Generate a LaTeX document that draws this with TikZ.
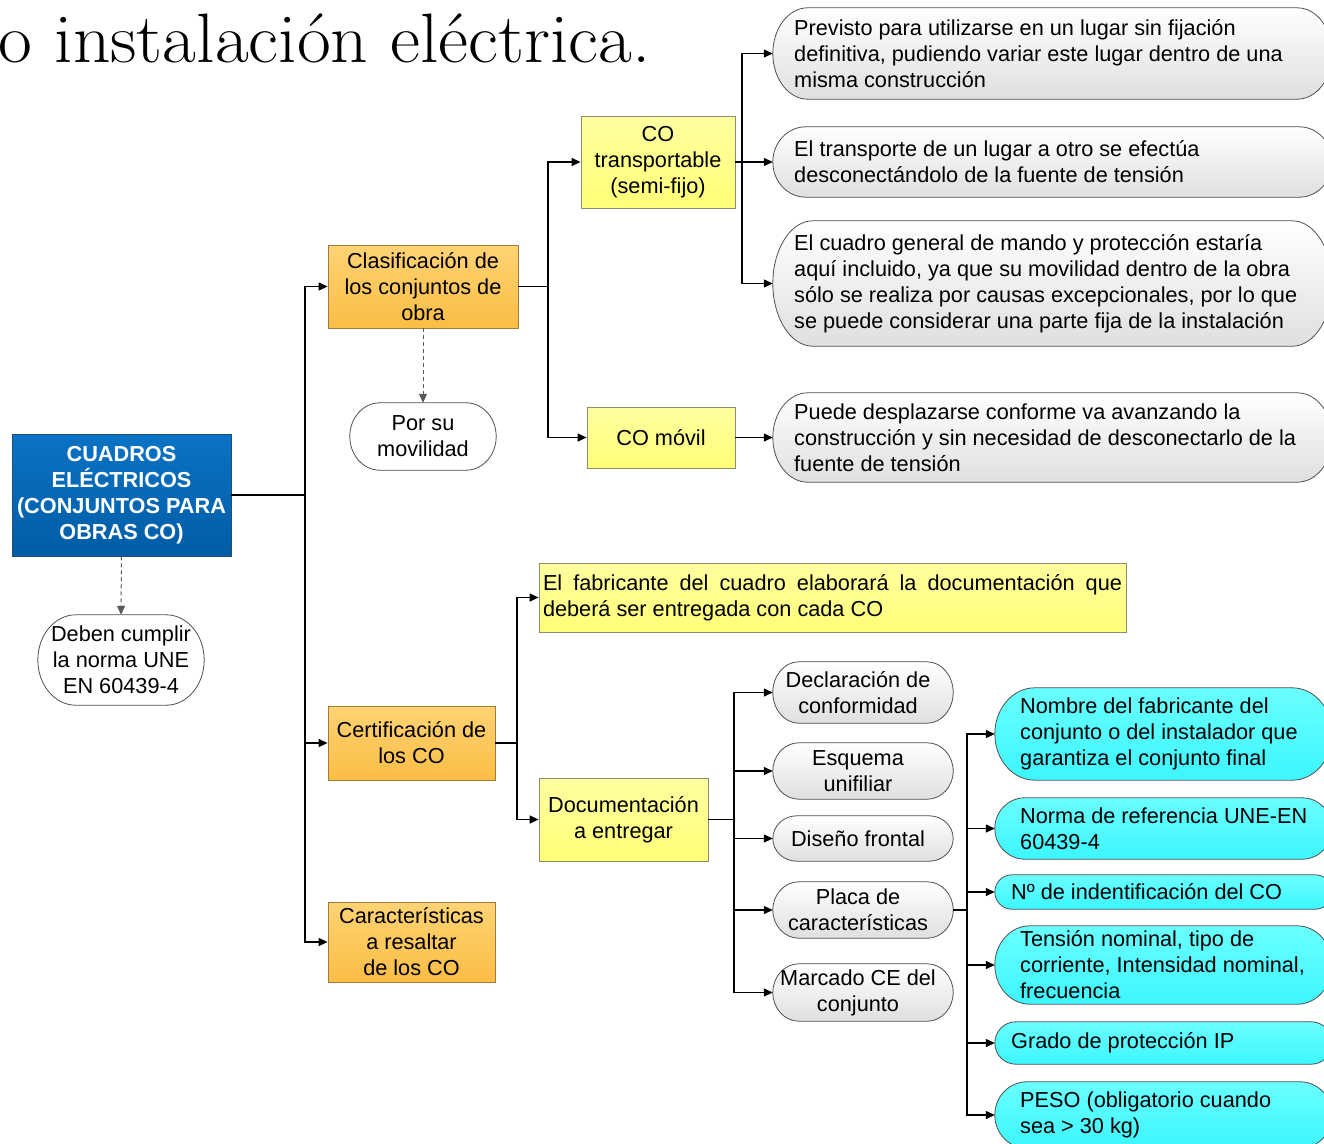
\documentclass[tikz,border=0pt]{standalone}
\usepackage{fontspec}
\usepackage{graphicx}
\setsansfont{Liberation Sans}
\usetikzlibrary{arrows.meta,calc,backgrounds}
\definecolor{blueA}{HTML}{0B72C4}
\definecolor{blueB}{HTML}{005DA6}
\definecolor{blueE}{HTML}{1F4E79}
\definecolor{orA}{HTML}{FFD374}
\definecolor{orB}{HTML}{FBBD45}
\definecolor{orE}{HTML}{A07C3C}
\definecolor{yeA}{HTML}{FFFFA0}
\definecolor{yeB}{HTML}{FFFF78}
\definecolor{yeE}{HTML}{8C8C6E}
\definecolor{grE}{HTML}{505050}
\definecolor{cyA}{HTML}{6AFFFF}
\definecolor{cyB}{HTML}{3CF6FF}
\newcommand\pillpath[3]{%
  \path[#3] let \p1=(#1.north west), \p2=(#1.south east) in
    (\x1+#2,\y1) -- (\x2-#2,\y1)
    arc[start angle=90,end angle=-90,x radius=#2,y radius={(\y1-\y2)/2}]
    -- (\x1+#2,\y2)
    arc[start angle=270,end angle=90,x radius=#2,y radius={(\y1-\y2)/2}]
    -- cycle;}
\begin{document}
\begin{tikzpicture}[x=1pt,y=-1pt,
  every node/.style={inner sep=0pt, font=\sffamily\fontsize{21.7}{26}\selectfont, align=center},
  box/.style={draw, line width=0.8pt},
  bluebox/.style={box, draw=blueE, top color=blueA, bottom color=blueB, text=white,
    font=\sffamily\bfseries\fontsize{21.7}{26}\selectfont},
  orbox/.style={box, draw=orE, top color=orA, bottom color=orB},
  yebox/.style={box, draw=yeE, top color=yeA, bottom color=yeB},
  graypill/.style={draw=grE, line width=0.8pt, top color=white, bottom color=gray!25},
  whitepill/.style={draw=grE, line width=0.8pt, fill=white},
  cyanpill/.style={draw=grE, line width=0.8pt, top color=cyA, bottom color=cyB},
  conn/.style={line width=1.3pt, draw=black},
  arr/.style={conn, -{Triangle[length=9pt,width=8pt]}},
  dasharr/.style={line width=1pt, draw=gray!70!black, dash pattern=on 4pt off 3pt,
    -{Triangle[length=9pt,width=8pt]}},
  ltext/.style={anchor=west, align=left}
]
\useasboundingbox (0,0) rectangle (1324,1143);

% title
\node[anchor=base east, font=\rmfamily\fontsize{70}{84}\selectfont] (title) at (651,62)
  {\scalebox{1.05}[1]{o instalación eléctrica.}};

% left column
\node[bluebox, minimum width=219pt, minimum height=122pt] (cuadros) at (121.5,495)
  {CUADROS\\ELÉCTRICOS\\(CONJUNTOS PARA\\OBRAS CO)};
\node[minimum width=166pt, minimum height=90pt] (deben) at (121,660)
  {Deben cumplir\\la norma UNE\\EN 60439-4};

% second column
\node[orbox, minimum width=190pt, minimum height=83pt] (clasif) at (423,286.5)
  {Clasificación de\\los conjuntos de\\obra};
\node[minimum width=146pt, minimum height=67pt] (por) at (423,436.5) {Por su\\movilidad};
\node[orbox, minimum width=167pt, minimum height=74pt] (cert) at (411.5,743)
  {Certificación de\\los CO};
\node[orbox, minimum width=167pt, minimum height=80pt] (carac) at (411.5,942)
  {Características\\a resaltar\\de los CO};

% third column
\node[yebox, minimum width=154pt, minimum height=92pt] (cotrans) at (658,162)
  {CO\\transportable\\(semi-fijo)};
\node[yebox, minimum width=148pt, minimum height=61pt] (comovil) at (661,437.5) {CO móvil};
\node[yebox, align=left, minimum width=587pt, minimum height=69pt] (fab) at (832.5,597.5)
  {\makebox[579pt][s]{El fabricante del cuadro elaborará la documentación que}\\deberá ser entregada con cada CO};
\node[yebox, minimum width=169pt, minimum height=83pt] (doc) at (623.5,819.5)
  {Documentación\\a entregar};

% big description pills
\node[minimum width=559pt, minimum height=91pt] (b1) at (1052.5,53.5) {};
\node[ltext] (b1t) at (794,53.5)
  {Previsto para utilizarse en un lugar sin fijación\\definitiva, pudiendo variar este lugar dentro de una\\misma construcción};
\node[minimum width=559pt, minimum height=70pt] (b2) at (1052.5,162) {};
\node[ltext] (b2t) at (794,162)
  {El transporte de un lugar a otro se efectúa\\desconectándolo de la fuente de tensión};
\node[minimum width=559pt, minimum height=125pt] (b3) at (1052.5,283.5) {};
\node[ltext] (b3t) at (794,283.5)
  {El cuadro general de mando y protección estaría\\aquí incluido, ya que su movilidad dentro de la obra\\sólo se realiza por causas excepcionales, por lo que\\se puede considerar una parte fija de la instalación};
\node[minimum width=559pt, minimum height=89pt] (b4) at (1052.5,437.5) {};
\node[ltext] (b4t) at (794,437.5)
  {Puede desplazarse conforme va avanzando la\\construcción y sin necesidad de desconectarlo de la\\fuente de tensión};

% gray document pills
\node[minimum width=180pt, minimum height=61pt] (g1) at (863,692.5) {};
\node (g1t) at (858,692.5) {Declaración de\\conformidad};
\node[minimum width=180pt, minimum height=56pt] (g2) at (863,771) {};
\node (g2t) at (858,771) {Esquema\\unifiliar};
\node[minimum width=180pt, minimum height=45pt] (g3) at (863,838.5) {};
\node (g3t) at (858,838.5) {Diseño frontal};
\node[minimum width=180pt, minimum height=56pt] (g4) at (863,910) {};
\node (g4t) at (858,910) {Placa de\\características};
\node[minimum width=180pt, minimum height=57pt] (g5) at (863,992.5) {};
\node (g5t) at (858,992.5) {Marcado CE del\\conjunto};

% cyan pills
\node[minimum width=337pt, minimum height=92pt] (c1) at (1163.5,734) {};
\node[ltext] (c1t) at (1020,734) {Nombre del fabricante del\\conjunto o del instalador que\\garantiza el conjunto final};
\node[minimum width=337pt, minimum height=61pt] (c2) at (1163.5,828.5) {};
\node[ltext] (c2t) at (1020,828.5) {Norma de referencia UNE-EN\\60439-4};
\node[minimum width=337pt, minimum height=34pt] (c3) at (1163.5,892) {};
\node[ltext] (c3t) at (1011,892) {Nº de indentificación del CO};
\node[minimum width=337pt, minimum height=78pt] (c4) at (1163.5,965) {};
\node[ltext] (c4t) at (1020,965) {Tensión nominal, tipo de\\corriente, Intensidad nominal,\\frecuencia};
\node[minimum width=337pt, minimum height=42pt] (c5) at (1163.5,1043) {};
\node[ltext] (c5t) at (1011,1043) {Grado de protección IP};
\node[minimum width=337pt, minimum height=66pt] (c6) at (1163.5,1115) {};
\node[ltext] (c6t) at (1020,1115) {PESO (obligatorio cuando\\sea > 30 kg)};

% pill shapes behind text
\begin{pgfonlayer}{background}
  \pillpath{deben}{38pt}{whitepill}
  \pillpath{por}{30pt}{whitepill}
  \pillpath{b1}{35pt}{graypill}
  \pillpath{b2}{33pt}{graypill}
  \pillpath{b3}{40pt}{graypill}
  \pillpath{b4}{35pt}{graypill}
  \pillpath{g1}{26pt}{graypill}
  \pillpath{g2}{26pt}{graypill}
  \pillpath{g3}{24pt}{graypill}
  \pillpath{g4}{26pt}{graypill}
  \pillpath{g5}{26pt}{graypill}
  \pillpath{c1}{40pt}{cyanpill}
  \pillpath{c2}{30pt}{cyanpill}
  \pillpath{c3}{17pt}{cyanpill}
  \pillpath{c4}{35pt}{cyanpill}
  \pillpath{c5}{21pt}{cyanpill}
  \pillpath{c6}{32pt}{cyanpill}
\end{pgfonlayer}

% connectors
\coordinate (j1) at (305,495);
\coordinate (j2) at (548,286.5);
\coordinate (j3) at (742,162);
\coordinate (j4) at (517,743);
\coordinate (j5) at (734,819.5);
\coordinate (j6) at (967,910);

\draw[conn] (cuadros.east) -- (j1);
\draw[arr] (j1) |- (clasif.west);
\draw[arr] (j1) |- (cert.west);
\draw[arr] (j1) |- (carac.west);
\draw[dasharr] (cuadros.south) -- (deben.north);
\draw[dasharr] (clasif.south) -- (por.north);

\draw[conn] (clasif.east) -- (j2);
\draw[arr] (j2) |- (cotrans.west);
\draw[arr] (j2) |- (comovil.west);

\draw[conn] (cotrans.east) -- (j3);
\draw[arr] (j3) |- (b1.west);
\draw[arr] (j3) |- (b2.west);
\draw[arr] (j3) |- (b3.west);
\draw[arr] (comovil.east) -- (b4.west);

\draw[conn] (cert.east) -- (j4);
\draw[arr] (j4) |- (fab.west);
\draw[arr] (j4) |- (doc.west);

\draw[conn] (doc.east) -- (j5);
\draw[arr] (j5) |- (g1.west);
\draw[arr] (j5) |- (g2.west);
\draw[arr] (j5) |- (g3.west);
\draw[arr] (j5) |- (g4.west);
\draw[arr] (j5) |- (g5.west);

\draw[conn] (g4.east) -- (j6);
\draw[arr] (j6) |- (c1.west);
\draw[arr] (j6) |- (c2.west);
\draw[arr] (j6) |- (c3.west);
\draw[arr] (j6) |- (c4.west);
\draw[arr] (j6) |- (c5.west);
\draw[arr] (j6) |- (c6.west);
\end{tikzpicture}
\end{document}
